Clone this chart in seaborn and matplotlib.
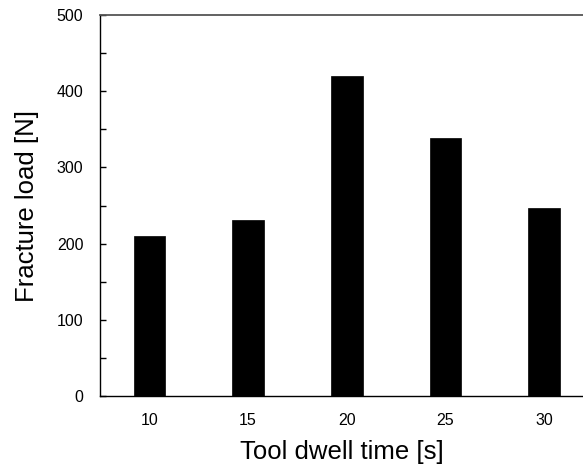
import pandas as pd
import seaborn as sns
import matplotlib.pyplot as plt
from matplotlib.ticker import MultipleLocator

# data
dwell_time = [10, 15, 20, 25, 30]
fracture_load = [210, 231, 420, 338, 247]

df = pd.DataFrame({'dwell': dwell_time, 'load': fracture_load})

sns.set_style('white')
plt.rcParams['font.family'] = ['Liberation Sans', 'DejaVu Sans']
plt.rcParams['text.color'] = 'black'
plt.rcParams['axes.labelcolor'] = 'black'
plt.rcParams['xtick.color'] = 'black'
plt.rcParams['ytick.color'] = 'black'

fig = plt.figure(figsize=(5.83, 4.66), dpi=100)
ax = fig.add_axes([100/583, 70/466, 483/583, 381/466])

sns.barplot(data=df, x='dwell', y='load', native_scale=True, width=0.32,
            color='black', edgecolor='black', linewidth=0.5, ax=ax)

ax.set_xlim(7.5, 31.97)
ax.set_ylim(0, 500)
ax.set_xticks(dwell_time)
ax.yaxis.set_major_locator(MultipleLocator(100))
ax.yaxis.set_minor_locator(MultipleLocator(50))
ax.tick_params(axis='y', which='both', direction='in', length=4, width=1,
               color='black', labelsize=11.5, pad=12, left=True)
ax.tick_params(axis='x', length=0, labelsize=11.5, pad=12)

for s in ['left', 'bottom']:
    ax.spines[s].set_color('black')
    ax.spines[s].set_linewidth(1)
ax.spines['top'].set_color('#555555')
ax.spines['top'].set_linewidth(1.3)
ax.spines['right'].set_visible(False)

ax.set_xlabel('Tool dwell time [s]', fontsize=18.5, labelpad=9)
ax.set_ylabel('Fracture load [N]', fontsize=18.5, labelpad=13)

fig.savefig('out.png', dpi=100)
